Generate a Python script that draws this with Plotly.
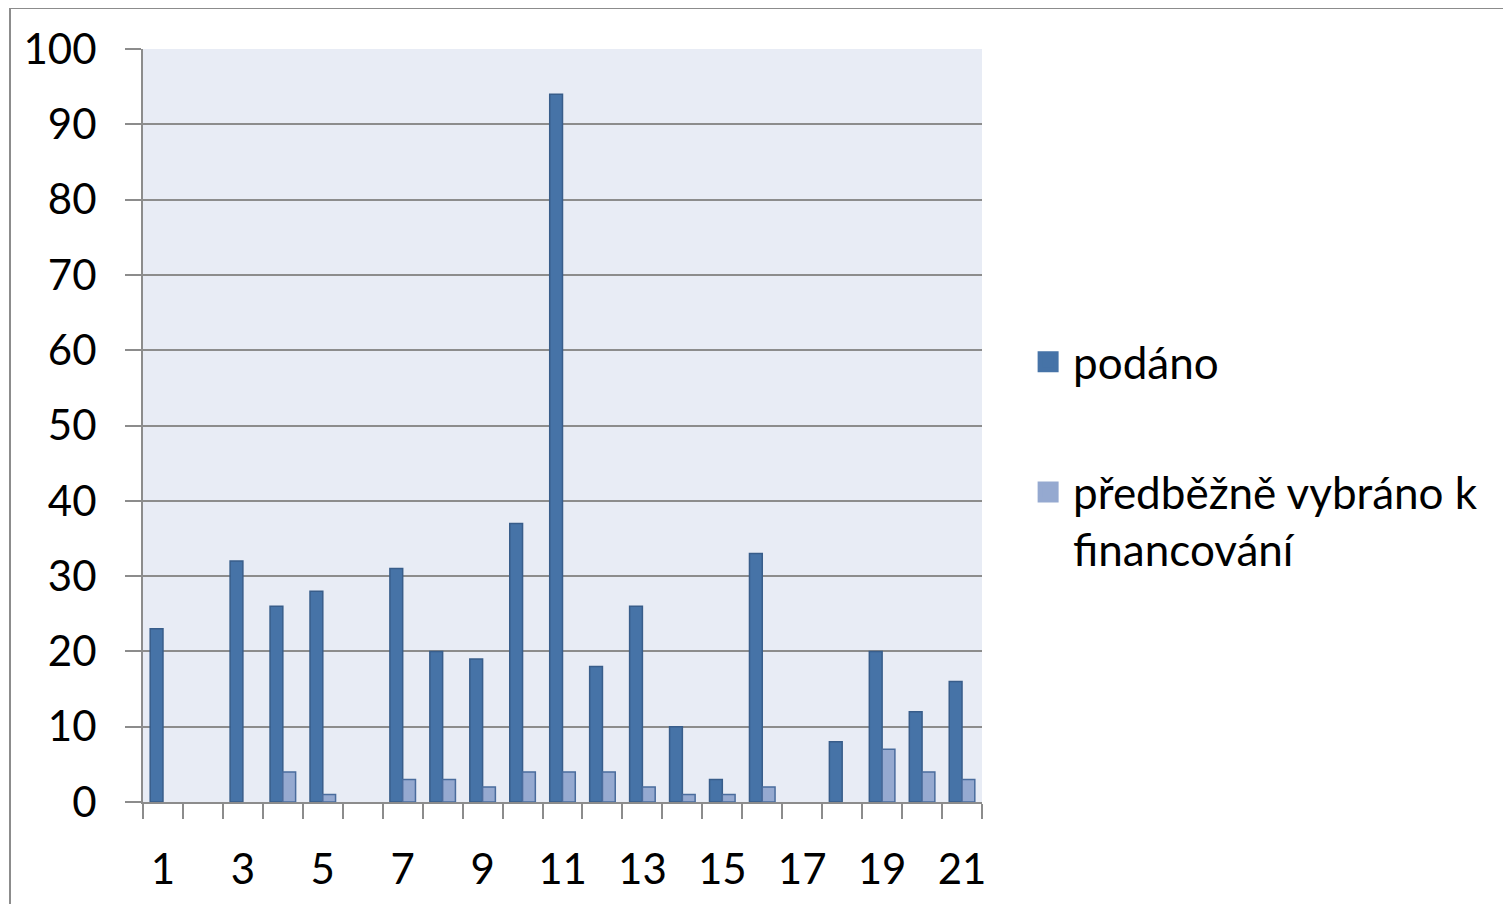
import plotly.graph_objects as go

categories = [str(i) for i in range(1, 22)]
podano = [23, None, 32, 26, 28, None, 31, 20, 19, 37, 94, 18, 26, 10, 3, 33, None, 8, 20, 12, 16]
vybrano = [None, None, None, 4, 1, None, 3, 3, 2, 4, 4, 4, 2, 1, 1, 2, None, None, 7, 4, 3]
tick_text = [c if int(c) % 2 == 1 else "" for c in categories]
names = ["podáno", "předběžně vybráno k<br>financování"]

FONT = "Lato, Open Sans, sans-serif"
C1, L1 = "#4673A7", "#385D8A"
C2, L2 = "#95A9D0", "#4A6C9D"

fig = go.Figure()
fig.add_trace(go.Bar(x=categories, y=podano, name=names[0], showlegend=False,
                     marker=dict(color=C1, line=dict(color=L1, width=1.5))))
fig.add_trace(go.Bar(x=categories, y=vybrano, name=names[1], showlegend=False,
                     marker=dict(color=C2, line=dict(color=L2, width=1.5))))
# legend entries with large square swatches
for nm, c, l, g in [(names[0], C1, L1, "a"), (names[1], C2, L2, "b")]:
    fig.add_trace(go.Scatter(x=[None], y=[None], mode="markers", name=nm,
                             legendgroup=g,
                             marker=dict(symbol="square", size=26, color=c,
                                         line=dict(color=c, width=5))))

# page body has an 8px margin, so figure is placed at (8, 8)
fig.update_layout(
    width=1503, height=896,
    margin=dict(l=135, r=529, t=41, b=102, autoexpand=False),
    paper_bgcolor="white",
    plot_bgcolor="#E8ECF5",
    barmode="group",
    bargap=0.36,
    bargroupgap=0,
    font=dict(family=FONT, size=42, color="black"),
    legend=dict(
        x=1.049, y=0.46, xanchor="left", yanchor="middle",
        font=dict(family=FONT, size=44, color="black"),
        traceorder="grouped", tracegroupgap=70, valign="top",
        itemsizing="trace", itemwidth=40,
        bgcolor="rgba(0,0,0,0)",
    ),
    showlegend=True,
)

fig.update_xaxes(
    type="category", automargin=False,
    tickmode="array", tickvals=categories, ticktext=tick_text, tickangle=0,
    tickson="boundaries",
    ticks="outside", ticklen=15, tickwidth=2, tickcolor="#8C8C8C",
    showline=True, linecolor="#8C8C8C", linewidth=2,
    showgrid=False,
    tickfont=dict(family=FONT, size=42, color="black"),
    ticklabelstandoff=30,
)
fig.update_yaxes(
    range=[0, 100], dtick=10, automargin=False,
    ticks="outside", ticklen=16, tickwidth=2, tickcolor="#8C8C8C",
    showline=True, linecolor="#8C8C8C", linewidth=2,
    showgrid=True, gridcolor="#8C8C8C", gridwidth=2,
    zeroline=False,
    tickfont=dict(family=FONT, size=42, color="black"),
    ticklabelstandoff=20,
)

# outer frame of the chart object
fig.add_shape(type="rect", xref="paper", yref="paper",
              x0=(10 - 143) / 839, x1=(1506 - 143) / 839,
              y0=(802 - 915) / 753, y1=(802 - 8) / 753,
              line=dict(color="#8C8C8C", width=2), fillcolor="rgba(0,0,0,0)",
              layer="below")

fig.write_html("out.html")
